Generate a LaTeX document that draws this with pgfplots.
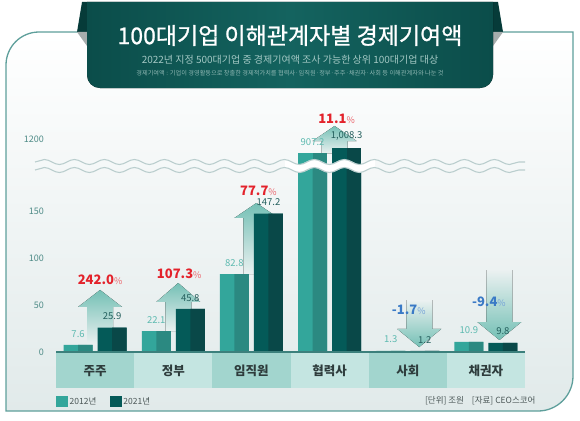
\documentclass[border=0pt]{standalone}
\usepackage{fontspec}
\setmainfont{Noto Sans CJK KR}
\newfontfamily\titlefont[FakeBold=1]{Noto Sans CJK KR}
\usepackage{pgfplots}
\pgfplotsset{compat=1.18}
\usepackage{pgfplotstable}
\usetikzlibrary{decorations.pathmorphing}

\definecolor{bannerA}{HTML}{0B4D4A}
\definecolor{bannerB}{HTML}{14635F}
\definecolor{fold}{HTML}{063B39}
\definecolor{shadow}{HTML}{A7ADAD}
\definecolor{framec}{HTML}{5E9F9B}
\definecolor{bgbot}{HTML}{E1EAEA}
\definecolor{subc}{HTML}{A3C8C4}
\definecolor{notec}{HTML}{8DB6B2}
\definecolor{tickc}{HTML}{4E8B87}
\definecolor{c12a}{HTML}{33A69B}
\definecolor{c12b}{HTML}{2B8981}
\definecolor{c21a}{HTML}{045A58}
\definecolor{c21b}{HTML}{094848}
\definecolor{lab12}{HTML}{5DBAB0}
\definecolor{lab21}{HTML}{245F5D}
\definecolor{bandA}{HTML}{A2D5CE}
\definecolor{bandB}{HTML}{C4E5E1}
\definecolor{basec}{HTML}{3C807C}
\definecolor{catc}{HTML}{2E3C3C}
\definecolor{upc}{HTML}{E3222B}
\definecolor{downc}{HTML}{3A7AC6}
\definecolor{arrowc}{HTML}{74C0B5}
\definecolor{arrowbg}{HTML}{EBF1F1}
\definecolor{wavec}{HTML}{BACECE}
\definecolor{legc}{HTML}{4A5656}

% 2012 / 2021, 조원
\pgfplotstableread{
x y
0 7.6
1 22.1
2 82.8
3 907.2
4 1.3
5 10.9
}\tA
\pgfplotstableread{
x y
0 25.9
1 45.8
2 147.2
3 1008.3
4 1.2
5 9.8
}\tB

\tikzset{arrup/.style={top color=arrowc, bottom color=arrowbg},
         arrdown/.style={top color=arrowbg, bottom color=arrowc}}
% x, shift, shaft end, head base, tip, style
\newcommand{\arr}[6]{%
  \fill[#6] ([xshift=#2-13pt]axis cs:#1,#3) -- ([xshift=#2-13pt]axis cs:#1,#4)
    -- ([xshift=#2-22pt]axis cs:#1,#4) -- ([xshift=#2]axis cs:#1,#5)
    -- ([xshift=#2+22pt]axis cs:#1,#4) -- ([xshift=#2+13pt]axis cs:#1,#4)
    -- ([xshift=#2+13pt]axis cs:#1,#3) -- cycle;}
\newcommand{\pct}[2]{\textcolor{#1}{\bfseries\fontsize{13}{13}\selectfont #2}\textcolor{#1!70}{\fontsize{9}{9}\selectfont\%}}

\pgfplotsset{
  brk/.style={
    scale only axis, width=469pt,
    xmin=-0.5, xmax=5.5, ybar, clip mode=individual, axis on top,
    axis line style={draw=none}, major tick length=0pt,
    /pgf/number format/assume math mode=true,
    yticklabel style={font=\fontsize{9}{9}\selectfont, text=tickc, anchor=east,
      inner sep=0pt, xshift=-12pt, /pgf/number format/1000 sep={}},
  },
  lbl/.style={ybar, bar width=29pt, bar shift=#1, draw=none, fill=none, forget plot,
    point meta=y,
    nodes near coords={\pgfmathprintnumber[fixed,fixed zerofill,precision=1,1000 sep={,},assume math mode=true]{\pgfplotspointmeta}},
    every node near coord/.append style={font=\fontsize{9.5}{9.5}\selectfont,
      anchor=south, inner sep=0pt, yshift=7.5pt}},
}

\begin{document}
\begin{tikzpicture}
\useasboundingbox (0,0) rectangle (580pt,-420pt);

% frame
\path[draw=framec, line width=1.3pt, top color=white, middle color=white!80!bgbot, bottom color=bgbot]
  (6pt,-65pt) arc[start angle=180, end angle=90, radius=33pt] -- (573pt,-32pt)
  -- (573pt,-376pt) arc[start angle=0, end angle=-90, radius=35pt] -- (6pt,-411pt) -- cycle;

% banner
\fill[fold] (82pt,-2pt) -- (87pt,-2pt) -- (87pt,-32pt) -- (77pt,-32pt) -- cycle;
\fill[shadow] (77pt,-32pt) -- (87pt,-32pt) -- (87pt,-46pt) -- cycle;
\fill[fold] (498pt,-2pt) -- (493pt,-2pt) -- (493pt,-32pt) -- (503pt,-32pt) -- cycle;
\fill[shadow] (503pt,-32pt) -- (493pt,-32pt) -- (493pt,-46pt) -- cycle;
\fill[left color=bannerA, right color=bannerA, middle color=bannerB]
  (87pt,-2pt) -- (87pt,-75pt) arc[start angle=180, end angle=270, radius=13pt]
  -- (480pt,-88pt) arc[start angle=270, end angle=360, radius=13pt] -- (493pt,-2pt) -- cycle;
\node[text=white] at (290pt,-35.5pt) {\titlefont\fontsize{23}{23}\selectfont 100대기업 이해관계자별 경제기여액};
\node[text=subc] at (290pt,-60pt) {\fontsize{10}{10}\selectfont 2022년 지정 500대기업 중 경제기여액 조사 가능한 상위 100대기업 대상};
\node[text=notec] at (290pt,-73pt) {\fontsize{6.2}{6.2}\selectfont 경제기여액 : 기업이 경영활동으로 창출한 경제적가치를 협력사·임직원·정부·주주·채권자·사회 등 이해관계자와 나눈 것};

% lower part
\begin{axis}[brk, at={(56pt,-352pt)}, anchor=south west, height=186pt,
  ymin=0, ymax=197.87, ytick={0,50,100,150},
  xtick={0,...,5}, xticklabels={주주,정부,임직원,협력사,사회,채권자},
  xticklabel style={font=\bfseries\fontsize{12.5}{12.5}\selectfont, text=catc, anchor=center, yshift=-19pt},
  legend style={at={(0,0)}, anchor=north west, yshift=-44pt, draw=none, fill=none,
    inner sep=0pt, font=\fontsize{8.5}{8.5}\selectfont, text=legc, legend columns=2,
    /tikz/every even column/.append style={column sep=12pt}, nodes={inner sep=1.5pt}},
  ]
  \fill[bandA] (axis cs:-0.5,0) rectangle (axis cs:0.5,-38.3);
  \fill[bandB] (axis cs:0.5,0) rectangle (axis cs:1.5,-38.3);
  \fill[bandA] (axis cs:1.5,0) rectangle (axis cs:2.5,-38.3);
  \fill[bandB] (axis cs:2.5,0) rectangle (axis cs:3.5,-38.3);
  \fill[bandA] (axis cs:3.5,0) rectangle (axis cs:4.5,-38.3);
  \fill[bandB] (axis cs:4.5,0) rectangle (axis cs:5.5,-38.3);

  \arr{0}{5pt}{7.6}{47.9}{66.0}{arrup}
  \arr{1}{5pt}{22.1}{53.2}{73.4}{arrup}
  \arr{2}{5pt}{82.8}{142.6}{158.5}{arrup}
  \arr{4}{11.5pt}{55.3}{24.5}{5.3}{arrdown}
  \arr{5}{13.5pt}{87.2}{31.9}{12.8}{arrdown}

  \addplot[ybar, bar width=29pt, bar shift=-17pt, fill=c12a, draw=none,
    legend image code/.code={\fill[c12a] (0pt,-5.5pt) rectangle (12pt,5.5pt);}] table[x=x,y=y]{\tA};
  \addlegendentry{2012년}
  \addplot[ybar, bar width=14.5pt, bar shift=-9.75pt, fill=c12b, draw=none, forget plot] table[x=x,y=y]{\tA};
  \addplot[ybar, bar width=29pt, bar shift=17pt, fill=c21a, draw=none,
    legend image code/.code={\fill[c21a] (0pt,-5.5pt) rectangle (12pt,5.5pt);}] table[x=x,y=y]{\tB};
  \addlegendentry{2021년}
  \addplot[ybar, bar width=14.5pt, bar shift=24.25pt, fill=c21b, draw=none, forget plot] table[x=x,y=y]{\tB};

  \addplot[lbl=-17pt, restrict y to domain=0:500, every node near coord/.append style={text=lab12}] table[x=x,y=y]{\tA};
  \addplot[lbl=17pt, restrict y to domain=0:500, every node near coord/.append style={text=lab21}] table[x=x,y=y]{\tB};

  \draw[basec, line width=1.5pt] (axis cs:-0.5,0) -- (axis cs:5.5,0);

  \node[xshift=5pt] at (axis cs:0,76.6) {\pct{upc}{242.0}};
  \node[xshift=6pt] at (axis cs:1,83.0) {\pct{upc}{107.3}};
  \node[xshift=7pt] at (axis cs:2,171.3) {\pct{upc}{77.7}};
  \node[xshift=1pt] at (axis cs:4,44.7) {\pct{downc}{-1.7}};
  \node[xshift=3pt] at (axis cs:5,53.2) {\pct{downc}{-9.4}};
\end{axis}

% upper part (above the break)
\begin{axis}[brk, at={(56pt,-166pt)}, anchor=south west, height=56pt,
  ymin=650, ymax=1790.7, ytick={1200}, xtick=\empty]
  \arr{3}{5pt}{907.2}{1159}{1465}{arrup}
  \addplot[ybar, bar width=29pt, bar shift=-17pt, fill=c12a, draw=none, restrict y to domain=500:2000] table[x=x,y=y]{\tA};
  \addplot[ybar, bar width=14.5pt, bar shift=-9.75pt, fill=c12b, draw=none, restrict y to domain=500:2000] table[x=x,y=y]{\tA};
  \addplot[ybar, bar width=29pt, bar shift=17pt, fill=c21a, draw=none, restrict y to domain=500:2000] table[x=x,y=y]{\tB};
  \addplot[ybar, bar width=14.5pt, bar shift=24.25pt, fill=c21b, draw=none, restrict y to domain=500:2000] table[x=x,y=y]{\tB};
  \addplot[lbl=-17pt, restrict y to domain=500:2000, every node near coord/.append style={text=lab12}] table[x=x,y=y]{\tA};
  \addplot[lbl=17pt, restrict y to domain=500:2000, every node near coord/.append style={text=lab21}] table[x=x,y=y]{\tB};
  \node[xshift=7pt] at (axis cs:3,1607) {\pct{upc}{11.1}};
\end{axis}

% axis break
\begin{scope}
  \clip (285pt,-150pt) rectangle (375pt,-180pt);
  \draw[white, line width=8pt, decorate, decoration={snake, amplitude=2.5pt, segment length=30pt}] (35pt,-166pt) -- (525pt,-166pt);
\end{scope}
\draw[wavec, line width=1.1pt, decorate, decoration={snake, amplitude=2.5pt, segment length=30pt}] (35pt,-162pt) -- (525pt,-162pt);
\draw[wavec, line width=1.1pt, decorate, decoration={snake, amplitude=2.5pt, segment length=30pt}] (35pt,-170pt) -- (525pt,-170pt);

\node[anchor=east, text=legc] at (539pt,-401pt) {\fontsize{8.5}{8.5}\selectfont [단위] 조원\hspace{8pt}[자료] CEO스코어};
\end{tikzpicture}
\end{document}
